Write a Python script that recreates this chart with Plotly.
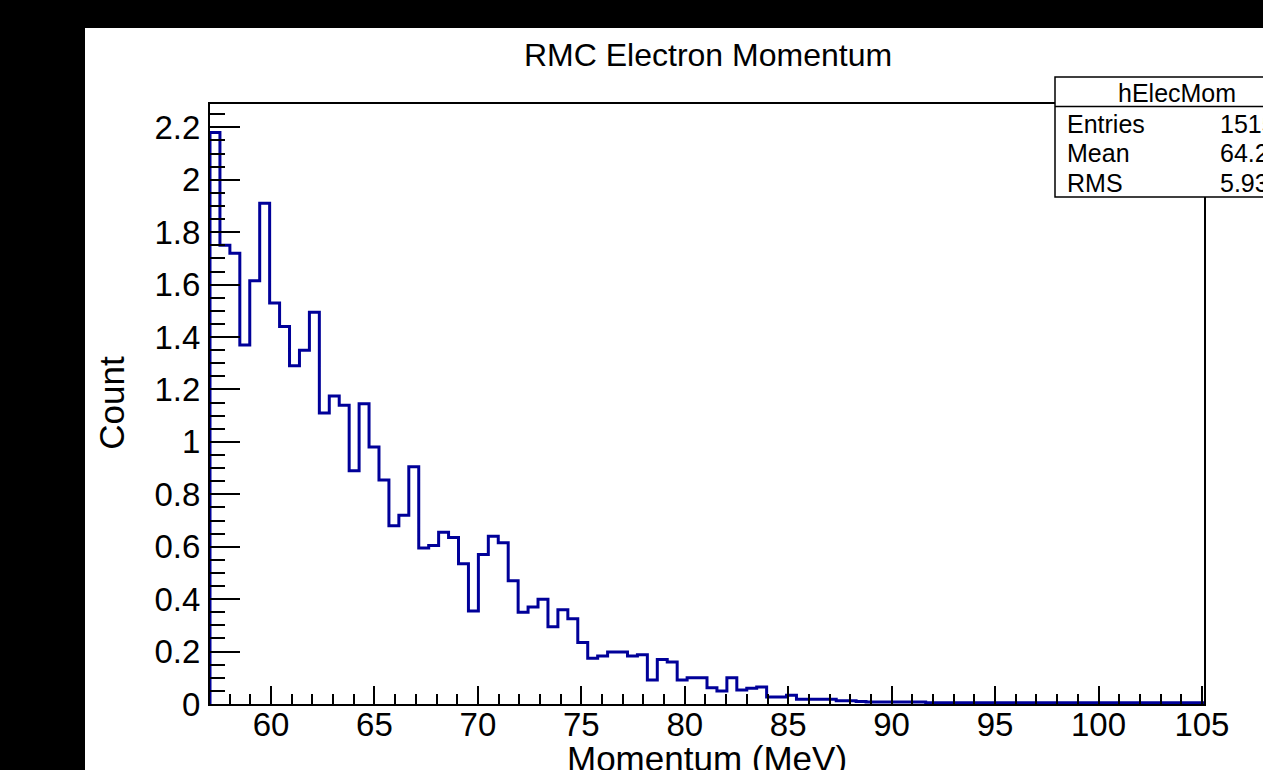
import plotly.graph_objects as go

# ---- data ----
x_min = 57.05
x_max = 105.1
counts = [
    2.18, 1.75, 1.72, 1.37, 1.615, 1.91, 1.53, 1.44, 1.29, 1.35,
    1.495, 1.11, 1.175, 1.14, 0.89, 1.145, 0.98, 0.855, 0.68, 0.72,
    0.905, 0.595, 0.605, 0.655, 0.635, 0.535, 0.355, 0.57, 0.64, 0.615,
    0.47, 0.35, 0.37, 0.40, 0.295, 0.36, 0.325, 0.235, 0.175, 0.183,
    0.198, 0.198, 0.183, 0.188, 0.092, 0.17, 0.16, 0.092, 0.10, 0.10,
    0.062, 0.05, 0.10, 0.053, 0.06, 0.065, 0.027, 0.027, 0.033, 0.018,
    0.018, 0.018, 0.018, 0.012, 0.012, 0.010, 0.008, 0.008, 0.008, 0.008,
    0.008, 0.008, 0.005, 0.005, 0.005, 0.005, 0.005, 0.005, 0.005, 0.005,
    0.005, 0.005, 0.005, 0.005, 0.005, 0.005, 0.005, 0.005, 0.005, 0.005,
    0.005, 0.005, 0.005, 0.005, 0.005, 0.005, 0.005, 0.005, 0.005, 0.005,
]
y_max = 2.289
x_ticks = [60, 65, 70, 75, 80, 85, 90, 95, 100, 105]
y_ticks = [0, 0.2, 0.4, 0.6, 0.8, 1.0, 1.2, 1.4, 1.6, 1.8, 2.0, 2.2]
y_tick_text = ["0", "0.2", "0.4", "0.6", "0.8", "1", "1.2", "1.4", "1.6", "1.8", "2", "2.2"]
title_text = "RMC Electron Momentum"
x_title = "Momentum (MeV)"
y_title = "Count"
stats_name = "hElecMom"
stats_labels = ["Entries", "Mean", "RMS"]
stats_values = ["1515", "64.27", "5.932"]

# ---- build step outline ----
n = len(counts)
w = (x_max - x_min) / n
edges = [x_min + i * w for i in range(n + 1)]
xs = [edges[0]] + edges
ys = [0] + counts + [counts[-1]]

W, H = 1263, 770
L, R, T, B = 210, 1204, 104, 704.5


def px(xp):
    return (xp - L) / (R - L)


def py(yp):
    return (B - yp) / (B - T)


FONT = "Liberation Sans, Arial, Helvetica, sans-serif"

fig = go.Figure()
fig.add_trace(go.Scatter(
    x=xs, y=ys, mode="lines", line=dict(color="#000099", width=3, shape="hv"),
    hoverinfo="skip", showlegend=False, cliponaxis=True,
))

shapes = [
    # white canvas
    dict(type="rect", xref="paper", yref="paper", x0=px(85), x1=px(1300), y0=py(28), y1=py(800),
         fillcolor="white", line=dict(width=0), layer="below"),
    # stats box
    dict(type="rect", xref="paper", yref="paper", x0=px(1055), x1=px(1300), y0=py(77), y1=py(197),
         fillcolor="white", line=dict(color="black", width=1.5), layer="above"),
    dict(type="line", xref="paper", yref="paper", x0=px(1055), x1=px(1300), y0=py(106.5), y1=py(106.5),
         line=dict(color="black", width=1.5), layer="above"),
]

annotations = [
    dict(text=title_text, x=px(708), y=py(55), xref="paper", yref="paper", showarrow=False,
         xanchor="center", yanchor="middle", font=dict(size=32, color="black", family=FONT)),
    dict(text=x_title, x=px(707), y=py(759), xref="paper", yref="paper", showarrow=False,
         xanchor="center", yanchor="middle", font=dict(size=35, color="black", family=FONT)),
    dict(text=y_title, x=px(112), y=py(403), xref="paper", yref="paper", showarrow=False,
         xanchor="center", yanchor="middle", textangle=-90, font=dict(size=35, color="black", family=FONT)),
    dict(text=stats_name, x=px(1177), y=py(93), xref="paper", yref="paper", showarrow=False,
         xanchor="center", yanchor="middle", font=dict(size=25, color="black", family=FONT)),
]
for i, (lab, val) in enumerate(zip(stats_labels, stats_values)):
    yc = 124 + i * 29.5
    annotations.append(dict(text=lab, x=px(1065), y=py(yc), xref="paper", yref="paper", showarrow=False,
                            xanchor="left", yanchor="middle", font=dict(size=25, color="black", family=FONT)))
    annotations.append(dict(text=val, x=px(1218), y=py(yc), xref="paper", yref="paper", showarrow=False,
                            xanchor="left", yanchor="middle", font=dict(size=25, color="black", family=FONT)))

fig.update_layout(
    width=W, height=H,
    margin=dict(l=L, r=W - R, t=T, b=H - B, pad=0),
    paper_bgcolor="black", plot_bgcolor="white",
    shapes=shapes, annotations=annotations,
    font=dict(family=FONT, color="black"),
)
fig.update_xaxes(
    range=[x_min, x_max], tickvals=x_ticks, ticktext=[str(t) for t in x_ticks],
    ticks="inside", ticklen=18, tickwidth=1.5, tickcolor="black",
    minor=dict(ticks="inside", ticklen=10, dtick=1, tick0=0, tickwidth=1.5, tickcolor="black"),
    showline=True, linecolor="black", linewidth=2, mirror=True, showgrid=False, zeroline=False,
    tickfont=dict(size=33, color="black", family=FONT), ticklabelstandoff=-10,
)
fig.update_yaxes(
    range=[0, y_max], tickvals=y_ticks, ticktext=y_tick_text,
    ticks="inside", ticklen=30, tickwidth=1.5, tickcolor="black",
    minor=dict(ticks="inside", ticklen=15, dtick=0.05, tick0=0, tickwidth=1.5, tickcolor="black"),
    showline=True, linecolor="black", linewidth=2, mirror=True, showgrid=False, zeroline=False,
    tickfont=dict(size=33, color="black", family=FONT), ticklabelstandoff=1,
)

fig.write_html(
    "out.html",
    config={"displayModeBar": False},
    post_script="document.body.style.margin='0';document.body.style.overflow='hidden';",
)
